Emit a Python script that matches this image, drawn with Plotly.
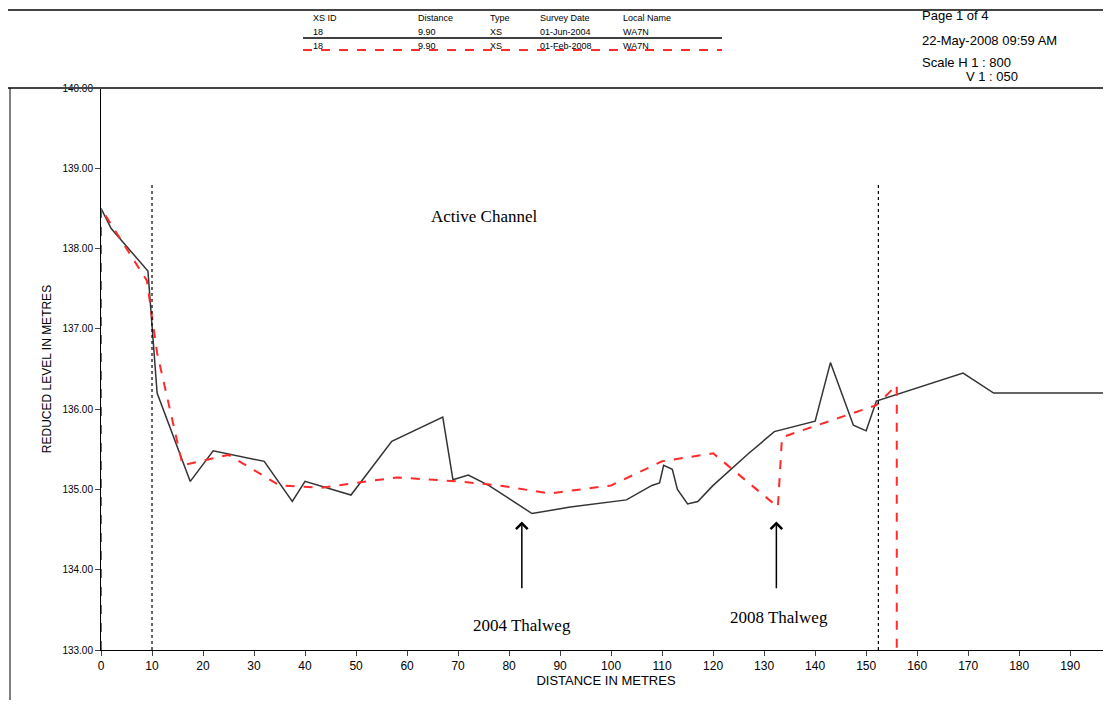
import plotly.graph_objects as go

# 2004 survey (solid black)
dist_2004 = [0, 2, 9.2, 10.2, 11, 17.5, 22, 32, 37.5, 40, 49, 57, 67, 69, 72, 76,
             84.5, 92, 103, 108, 109.5, 110.3, 112, 113, 115, 117, 120, 127, 132,
             140, 143, 147.5, 150, 152, 169, 175, 198]
level_2004 = [138.5, 138.25, 137.72, 136.9, 136.2, 135.1, 135.48, 135.35, 134.85,
              135.1, 134.93, 135.6, 135.9, 135.12, 135.18, 135.05, 134.7, 134.78,
              134.87, 135.05, 135.08, 135.3, 135.25, 135.0, 134.82, 134.85, 135.05,
              135.45, 135.72, 135.85, 136.58, 135.8, 135.73, 136.1, 136.45, 136.2, 136.2]

# 2008 survey (red dashed)
dist_2008 = [0, 0, 9, 11, 16, 25, 35, 43, 58, 70, 78, 88, 100, 110, 120, 132.7,
             133.5, 152, 156, 156]
level_2008 = [133.0, 138.5, 137.6, 136.7, 135.3, 135.43, 135.05, 135.02, 135.15,
              135.1, 135.05, 134.95, 135.05, 135.35, 135.45, 134.78, 135.65,
              136.05, 136.3, 133.0]

x_ticks = list(range(0, 200, 10))
y_ticks = [133, 134, 135, 136, 137, 138, 139, 140]
channel_edges = [10, 152.4]

fig = go.Figure()
fig.add_trace(go.Scatter(x=dist_2004, y=level_2004, mode="lines",
                         line=dict(color="#333333", width=1.5), showlegend=False))
fig.add_trace(go.Scatter(x=dist_2008, y=level_2008, mode="lines",
                         line=dict(color="#ff2a2a", width=2, dash="dash"), showlegend=False))

for xe in channel_edges:
    fig.add_shape(type="line", x0=xe, x1=xe, y0=133, y1=138.8,
                  line=dict(color="black", width=1.2, dash="dot"))

serif = dict(family="Liberation Serif", size=17, color="black")
fig.add_annotation(x=75, y=138.4, text="Active Channel", showarrow=False, font=serif)
fig.add_annotation(x=82.5, y=133.3, text="2004 Thalweg", showarrow=False, font=serif)
fig.add_annotation(x=133, y=133.4, text="2008 Thalweg", showarrow=False, font=serif)
for xa, ytip in [(82.5, 134.6), (132.4, 134.6)]:
    fig.add_annotation(x=xa, y=ytip, ax=xa, ay=ytip - 0.85, xref="x", yref="y",
                       axref="x", ayref="y", text="", showarrow=True,
                       arrowhead=4, arrowsize=1.5, arrowwidth=1.5, arrowcolor="black")


# header block (paper coords, converted from page pixels)
def px_x(p):
    return (p - 101) / 1010


def px_y(p):
    return (650 - p) / 562


for yp in [10, 88]:
    fig.add_shape(type="line", xref="paper", yref="paper", x0=px_x(8), x1=1,
                  y0=px_y(yp), y1=px_y(yp), line=dict(color="#444", width=2))
fig.add_shape(type="line", xref="paper", yref="paper", x0=px_x(10), x1=px_x(10),
              y0=px_y(700), y1=px_y(88), line=dict(color="black", width=1))
fig.add_shape(type="line", xref="paper", yref="paper", x0=px_x(303), x1=px_x(722),
              y0=px_y(38), y1=px_y(38), line=dict(color="black", width=1.5))
fig.add_shape(type="line", xref="paper", yref="paper", x0=px_x(303), x1=px_x(722),
              y0=px_y(50), y1=px_y(50), line=dict(color="#ff2a2a", width=2, dash="dash"))

small = dict(family="Liberation Sans", size=9, color="black")
cols = [(311, "XS ID", "18", "18"), (416, "Distance", "9.90", "9.90"),
        (488, "Type", "XS", "XS"), (538, "Survey Date", "01-Jun-2004", "01-Feb-2008"),
        (621, "Local Name", "WA7N", "WA7N")]
for xp, head, r1, r2 in cols:
    for yp, t in [(11, head), (25, r1), (39, r2)]:
        fig.add_annotation(xref="paper", yref="paper", x=px_x(xp), y=px_y(yp),
                           text=t, showarrow=False, xanchor="left", font=small)

right = dict(family="Liberation Sans", size=13, color="black")
for yp, t in [(6, "Page 1 of 4"), (31, "22-May-2008 09:59 AM"), (53, "Scale H 1 : 800")]:
    fig.add_annotation(xref="paper", yref="paper", x=px_x(920), y=px_y(yp), text=t,
                       showarrow=False, xanchor="left", font=right)
fig.add_annotation(xref="paper", yref="paper", x=px_x(964), y=px_y(67), text="V 1 : 050",
                   showarrow=False, xanchor="left", font=right)

fig.update_layout(
    width=1103, height=692, margin=dict(l=93, r=0, t=80, b=50),
    plot_bgcolor="white", paper_bgcolor="white",
    font=dict(family="Liberation Sans", size=11, color="black"),
    xaxis=dict(range=[0, 198], tickvals=x_ticks, showgrid=False, zeroline=False,
               showline=True, linecolor="black", ticks="outside", ticklen=5,
               tickfont=dict(size=12),
               title=dict(text="DISTANCE IN METRES", font=dict(size=13), standoff=2)),
    yaxis=dict(range=[133, 140], tickvals=y_ticks, ticktext=[f"{v:.2f}" for v in y_ticks],
               showgrid=False, zeroline=False, showline=True, linecolor="black",
               ticks="outside", ticklen=5, tickfont=dict(size=10),
               title=dict(text="REDUCED LEVEL IN METRES", font=dict(size=12), standoff=8)),
)

fig.write_html("out.html")
